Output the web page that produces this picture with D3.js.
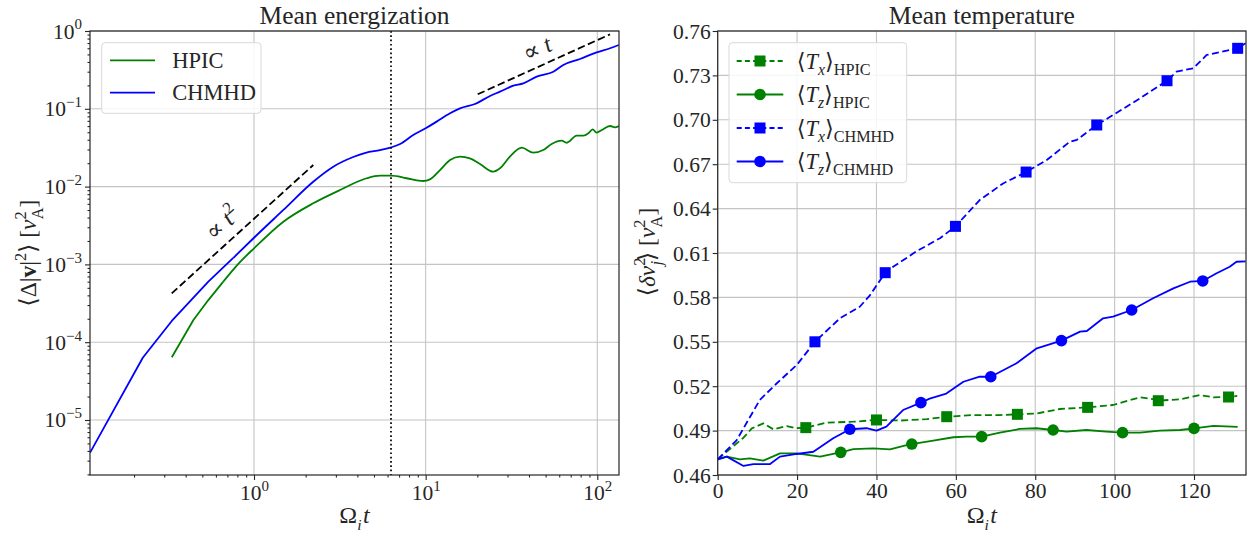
<!DOCTYPE html>
<html><head><meta charset="utf-8">
<script src="https://cdn.jsdelivr.net/npm/d3@7"></script>
<style>
body{margin:0;background:#fff}
svg{display:block}
text{font-family:"Liberation Serif","DejaVu Serif",serif;fill:#262626}
</style>
</head><body>
<script>
// ---------------- DATA ----------------
// Left panel: mean energization (log-log)
const energT_HPIC = [0.332,0.4436,0.542,0.6622,0.8128,1.0,1.483,2.213,3.17,4.529,5.42,6.31,7.745,9.68,10.59,12.13,13.87,15.85,18.11,20.75,24.77,27.10,30.97,36.31,42.36,48.42,54.2,62.09,66.37,75.86,82.99,88.72,93.97,99.08,106.2,118.6,126.8,133.4];
const energV_HPIC = [6.40e-5,1.93e-4,3.48e-4,6.0e-4,1.023e-3,1.61e-3,3.54e-3,6.10e-3,9.04e-3,1.28e-2,1.38e-2,1.38e-2,1.28e-2,1.18e-2,1.24e-2,1.633e-2,2.20e-2,2.43e-2,2.31e-2,1.95e-2,1.556e-2,1.718e-2,2.43e-2,3.16e-2,2.73e-2,2.95e-2,3.53e-2,3.89e-2,3.66e-2,4.51e-2,4.51e-2,4.84e-2,5.45e-2,4.93e-2,5.35e-2,6.01e-2,5.78e-2,6.01e-2];
const energT_CHMHD = [0.1109,0.2249,0.3319,0.542,0.7568,1.0,1.483,2.213,2.897,3.784,4.467,5.42,6.31,7.10,8.47,10.0,11.59,13.87,15.85,19.36,23.71,27.10,32.43,37.07,44.36,55.46,63.39,79.25,99.08,118.6,133.4];
const energV_CHMHD = [3.80e-6,6.32e-5,1.875e-4,6.0e-4,1.21e-3,2.20e-3,5.01e-3,1.156e-2,1.803e-2,2.40e-2,2.72e-2,2.95e-2,3.20e-2,3.53e-2,4.60e-2,5.61e-2,6.84e-2,8.75e-2,0.1014,0.1153,0.1462,0.166,0.198,0.212,0.259,0.300,0.366,0.437,0.532,0.600,0.661];
const energNames = ["HPIC","CHMHD"];
// reference power laws: coefficient and time range
const refT2 = {coef:0.00386, t0:0.3316, t1:2.216};
const refT1 = {coef:0.00764, t0:20.1, t1:118.6};
const cycloPeriod = 2*Math.PI;

// Right panel: mean temperature
const tempT_HPIC_x = [0,2.3,6.5,8.6,11.5,14,17.4,19.9,22.2,27.5,34.2,40,46,52.7,57.7,64.4,71.1,75.5,80.4,86.2,93.2,99.6,106.4,109.7,111,116.5,121.5,124.9,128.7,130.9];
const tempV_HPIC_x = [0.4706,0.4758,0.4852,0.4915,0.4949,0.4909,0.4931,0.4916,0.492,0.4954,0.496,0.4972,0.4968,0.4977,0.4994,0.5005,0.5005,0.501,0.5016,0.5046,0.5057,0.5073,0.5125,0.5112,0.5102,0.5112,0.514,0.5125,0.5127,0.5134];
const tempT_HPIC_z = [0,2.3,5.6,8.1,11.5,15.7,19.9,25.8,29.1,31,34.2,39.2,43.4,47.6,48.9,54.3,59.4,62.7,66.5,71.1,76.1,80.3,84.5,87.9,92.9,97.9,102,106.4,111.4,116.5,120,124.9,131];
const tempV_HPIC_z = [0.4706,0.4724,0.4706,0.4713,0.4697,0.4746,0.4746,0.4724,0.4742,0.4753,0.4775,0.478,0.4773,0.4802,0.4809,0.4832,0.4855,0.4859,0.4859,0.4886,0.4911,0.4916,0.4904,0.4893,0.4904,0.4893,0.4886,0.4886,0.49,0.4904,0.4915,0.4932,0.4925];
const tempT_CHMHD_x = [0,4.8,10.6,14.9,19.9,24.5,30.8,35.8,38.4,42.2,44.2,50,56,59.9,66,71.9,77.7,82.9,88.7,90.5,95.5,99.6,106.4,113.2,115.6,119.8,123.2,131,133];
const tempV_CHMHD_x = [0.4706,0.4836,0.5107,0.522,0.5343,0.55,0.5659,0.5737,0.5816,0.5967,0.6007,0.611,0.62,0.628,0.6458,0.657,0.6647,0.6728,0.6852,0.6865,0.6965,0.7032,0.7145,0.7264,0.7325,0.7348,0.7438,0.7483,0.7517];
const tempT_CHMHD_z = [0,2.3,6.5,9,13.2,15.7,19.9,24.1,29.1,33.3,37.5,40,42.5,46.7,51.2,53.4,57.6,61.9,66,68.8,75.3,80.4,86.6,91.3,93,97.1,99.6,104.3,109.7,114.8,119,122.2,125.7,129,130.7,133];
const tempV_CHMHD_z = [0.4706,0.4724,0.4661,0.4674,0.4674,0.4724,0.4742,0.4757,0.4848,0.4909,0.4916,0.49,0.4927,0.5039,0.5089,0.5116,0.515,0.523,0.5264,0.5264,0.5355,0.5456,0.5508,0.5569,0.5573,0.5659,0.567,0.5715,0.5794,0.5861,0.5906,0.5911,0.5963,0.6007,0.6041,0.6044];
// marker positions
const markT_HPIC_x = [22.2,40,57.7,75.5,93.2,111,128.7];
const markV_HPIC_x = [0.492,0.4972,0.4994,0.501,0.5057,0.5102,0.5127];
const markT_HPIC_z = [31,48.9,66.5,84.5,102,120];
const markV_HPIC_z = [0.4753,0.4809,0.4859,0.4904,0.4886,0.4915];
const markT_CHMHD_x = [24.5,42.2,59.9,77.7,95.5,113.2,131];
const markV_CHMHD_x = [0.55,0.5967,0.628,0.6647,0.6965,0.7264,0.7483];
const markT_CHMHD_z = [33.3,51.2,68.8,86.6,104.3,122.2];
const markV_CHMHD_z = [0.4909,0.5089,0.5264,0.5508,0.5715,0.5911];

// tick values
const xTicksLeft = [1,10,100];
const yTicksLeft = [1e-5,1e-4,1e-3,1e-2,1e-1,1];
const xTicksRight = [0,20,40,60,80,100,120];
const yTicksRight = [0.46,0.49,0.52,0.55,0.58,0.61,0.64,0.67,0.70,0.73,0.76];
const titles = ["Mean energization","Mean temperature"];

// ---------------- LAYOUT ----------------
const W=1253, H=533;
const svg = d3.select("body").append("svg").attr("width",W).attr("height",H);
const L = {x:90, y:31, w:529, h:444};
const R = {x:717.7, y:31, w:528.3, h:444};
const GREEN="#008000", BLUE="#0000ff", GRID="#c4c4c4", SPINE="#262626";
const FT=21.5, FL=22.5, FA=24, FTI=25.5;

function rich(sel, parts, size){
  let cur=0;
  parts.forEach(p=>{
    const target = p.sub ? size*0.28 : (p.sup ? -size*0.42 : 0);
    const ts = sel.append("tspan").text(p.t).attr("dy", (target-cur).toFixed(2));
    cur = target;
    if(p.sub||p.sup) ts.attr("font-size", (size*(p.ss||0.7)).toFixed(1));
    if(p.i) ts.attr("font-style","italic");
    if(p.b) ts.attr("font-weight","bold");
    if(p.dx) ts.attr("dx", p.dx);
  });
}
function expLabel(v){ const e=Math.round(Math.log10(v)); return [{t:"10"},{t:(e<0?"\u2212":"")+Math.abs(e), sup:true}]; }

const xL = d3.scaleLog().domain([0.1108,133.8]).range([0,L.w]);
const yL = d3.scaleLog().domain([1.963e-6,1]).range([L.h,0]);
const xR = d3.scaleLinear().domain([0,133.1]).range([0,R.w]);
const yR = d3.scaleLinear().domain([0.46,0.76]).range([R.h,0]);

const gL = svg.append("g").attr("transform",`translate(${L.x},${L.y})`);
const gR = svg.append("g").attr("transform",`translate(${R.x},${R.y})`);

const defs = svg.append("defs");
defs.append("clipPath").attr("id","clipL").append("rect").attr("width",L.w).attr("height",L.h);
defs.append("clipPath").attr("id","clipR").append("rect").attr("width",R.w).attr("height",R.h);

function minorLog(lo,hi){ const out=[]; for(let e=-7;e<=3;e++) for(let k=2;k<=9;k++){const v=k*Math.pow(10,e); if(v>=lo&&v<=hi) out.push(v);} return out; }

// ---- grids ----
function grid(g, xs, ys, xv, yv, w, h){
  g.append("g").selectAll("line").data(xv).join("line")
    .attr("x1",d=>xs(d)).attr("x2",d=>xs(d)).attr("y1",0).attr("y2",h)
    .attr("stroke",GRID).attr("stroke-width",1.1);
  g.append("g").selectAll("line").data(yv).join("line")
    .attr("y1",d=>ys(d)).attr("y2",d=>ys(d)).attr("x1",0).attr("x2",w)
    .attr("stroke",GRID).attr("stroke-width",1.1);
}
grid(gL, xL, yL, xTicksLeft, yTicksLeft, L.w, L.h);
grid(gR, xR, yR, xTicksRight, yTicksRight, R.w, R.h);

// ---- axes ----
function cleanAxis(g){ g.attr("font-family",null).attr("font-size",null); g.select(".domain").remove(); g.selectAll(".tick line").attr("stroke",SPINE).attr("stroke-width",1.1); }
// left x
const axLx = gL.append("g").attr("transform",`translate(0,${L.h})`).call(d3.axisBottom(xL).tickValues(xTicksLeft).tickSize(5).tickFormat(""));
cleanAxis(axLx);
axLx.selectAll(".tick").each(function(d){ const t=d3.select(this).append("text").attr("y",25).attr("text-anchor","middle").attr("font-size",FT).attr("fill","#262626"); rich(t,expLabel(d),FT); });
const axLxm = gL.append("g").attr("transform",`translate(0,${L.h})`).call(d3.axisBottom(xL).tickValues(minorLog(0.1108,133.8)).tickSize(2.5).tickFormat(""));
cleanAxis(axLxm);
// left y
const axLy = gL.append("g").call(d3.axisLeft(yL).tickValues(yTicksLeft).tickSize(5).tickFormat(""));
cleanAxis(axLy);
axLy.selectAll(".tick").each(function(d){ const t=d3.select(this).append("text").attr("x",-8).attr("y",7).attr("text-anchor","end").attr("font-size",FT).attr("fill","#262626"); rich(t,expLabel(d),FT); });
const axLym = gL.append("g").call(d3.axisLeft(yL).tickValues(minorLog(1.963e-6,1)).tickSize(2.5).tickFormat(""));
cleanAxis(axLym);
// right x
const axRx = gR.append("g").attr("transform",`translate(0,${R.h})`).call(d3.axisBottom(xR).tickValues(xTicksRight).tickSize(5).tickFormat(d3.format("d")));
cleanAxis(axRx);
axRx.selectAll(".tick text").attr("y",8).attr("dy","0.71em").attr("font-size",FT).attr("fill","#262626");
// right y
const axRy = gR.append("g").call(d3.axisLeft(yR).tickValues(yTicksRight).tickSize(5).tickFormat(d3.format(".2f")));
cleanAxis(axRy);
axRy.selectAll(".tick text").attr("x",-7).attr("dy","0.33em").attr("font-size",FT).attr("fill","#262626");

// ---- left series ----
const clipGL = gL.append("g").attr("clip-path","url(#clipL)");
const lineLin = d3.line().x(d=>xL(d[0])).y(d=>yL(d[1]));
const lineSm = d3.line().x(d=>xL(d[0])).y(d=>yL(d[1])).curve(d3.curveMonotoneX);
function drawEnerg(T, V, nLin, color){
  const pts = T.map((t,i)=>[t,V[i]]);
  clipGL.append("path").datum(pts.slice(0,nLin+1)).attr("d",lineLin)
    .attr("fill","none").attr("stroke",color).attr("stroke-width",1.8).attr("stroke-linejoin","round");
  clipGL.append("path").datum(pts.slice(nLin)).attr("d",lineSm)
    .attr("fill","none").attr("stroke",color).attr("stroke-width",1.8).attr("stroke-linejoin","round");
}
drawEnerg(energT_HPIC, energV_HPIC, 3, GREEN);
drawEnerg(energT_CHMHD, energV_CHMHD, 4, BLUE);
// reference lines
clipGL.append("path").datum([[refT2.t0,refT2.coef*refT2.t0**2],[refT2.t1,refT2.coef*refT2.t1**2]]).attr("d",lineLin)
  .attr("stroke","#000").attr("stroke-width",1.8).attr("stroke-dasharray","7.5,3.5").attr("fill","none");
clipGL.append("path").datum([[refT1.t0,refT1.coef*refT1.t0],[refT1.t1,refT1.coef*refT1.t1]]).attr("d",lineLin)
  .attr("stroke","#000").attr("stroke-width",1.8).attr("stroke-dasharray","7.5,3.5").attr("fill","none");
// vertical dotted line at one gyro period
clipGL.append("line").attr("x1",xL(cycloPeriod)).attr("x2",xL(cycloPeriod)).attr("y1",0).attr("y2",L.h)
  .attr("stroke","#000").attr("stroke-width",1.7).attr("stroke-dasharray","1.7,2.6");
// power law labels
const ang2 = -Math.atan(2*(yL(1e-3)-yL(1e-2))/(xL(10)-xL(1)))*180/Math.PI;
const ang1 = -Math.atan((yL(1e-3)-yL(1e-2))/(xL(10)-xL(1)))*180/Math.PI;
{ const t=0.77; const tx=gL.append("text").attr("transform",`translate(${xL(t)},${yL(refT2.coef*t*t)}) rotate(${ang2})`)
   .attr("y",-10).attr("text-anchor","middle").attr("font-size",FA);
  rich(tx,[{t:"\u221D "},{t:"t",i:true},{t:"2",sup:true}],FA); }
{ const t=49; const tx=gL.append("text").attr("transform",`translate(${xL(t)},${yL(refT1.coef*t)}) rotate(${ang1})`)
   .attr("y",-9).attr("text-anchor","middle").attr("font-size",FA);
  rich(tx,[{t:"\u221D "},{t:"t",i:true}],FA); }

// ---- right series ----
const clipGR = gR.append("g").attr("clip-path","url(#clipR)");
const lineR = d3.line().x(d=>xR(d[0])).y(d=>yR(d[1]));
const rightSeries = [
  {T:tempT_HPIC_x, V:tempV_HPIC_x, MT:markT_HPIC_x, MV:markV_HPIC_x, c:GREEN, dash:true, m:"s", lab:[{t:"\u27E8"},{t:"T",i:true},{t:"x",i:true,sub:true},{t:"\u27E9"},{t:"HPIC",sub:true,ss:0.72}]},
  {T:tempT_HPIC_z, V:tempV_HPIC_z, MT:markT_HPIC_z, MV:markV_HPIC_z, c:GREEN, dash:false, m:"o", lab:[{t:"\u27E8"},{t:"T",i:true},{t:"z",i:true,sub:true},{t:"\u27E9"},{t:"HPIC",sub:true,ss:0.72}]},
  {T:tempT_CHMHD_x, V:tempV_CHMHD_x, MT:markT_CHMHD_x, MV:markV_CHMHD_x, c:BLUE, dash:true, m:"s", lab:[{t:"\u27E8"},{t:"T",i:true},{t:"x",i:true,sub:true},{t:"\u27E9"},{t:"CHMHD",sub:true,ss:0.72}]},
  {T:tempT_CHMHD_z, V:tempV_CHMHD_z, MT:markT_CHMHD_z, MV:markV_CHMHD_z, c:BLUE, dash:false, m:"o", lab:[{t:"\u27E8"},{t:"T",i:true},{t:"z",i:true,sub:true},{t:"\u27E9"},{t:"CHMHD",sub:true,ss:0.72}]},
];
const MS=11;
function marker(g, type, x, y, c){
  if(type==="s") g.append("rect").attr("x",x-MS/2).attr("y",y-MS/2).attr("width",MS).attr("height",MS).attr("fill",c);
  else g.append("circle").attr("cx",x).attr("cy",y).attr("r",MS/2+0.3).attr("fill",c);
}
rightSeries.forEach(s=>{
  clipGR.append("path").datum(s.T.map((t,i)=>[t,s.V[i]])).attr("d",lineR)
    .attr("fill","none").attr("stroke",s.c).attr("stroke-width",1.8).attr("stroke-linejoin","round")
    .attr("stroke-dasharray", s.dash?"7,3.5":null);
});
rightSeries.forEach(s=>{
  s.MT.forEach((t,i)=>marker(gR, s.m, xR(t), yR(s.MV[i]), s.c));
});

// ---- spines ----
gL.append("rect").attr("width",L.w).attr("height",L.h).attr("fill","none").attr("stroke",SPINE).attr("stroke-width",1.2);
gR.append("rect").attr("width",R.w).attr("height",R.h).attr("fill","none").attr("stroke",SPINE).attr("stroke-width",1.2);

// ---- legends ----
// left
const lgL = gL.append("g").attr("transform","translate(11.7,11.7)");
lgL.append("rect").attr("width",159.3).attr("height",70.6).attr("rx",3.5).attr("fill","#fff").attr("fill-opacity",0.85).attr("stroke","#d9d9d9").attr("stroke-width",1);
[[GREEN,energNames[0]],[BLUE,energNames[1]]].forEach((e,i)=>{
  const y = 17.6 + i*32.3;
  lgL.append("line").attr("x1",8.3).attr("x2",53.3).attr("y1",y).attr("y2",y).attr("stroke",e[0]).attr("stroke-width",1.8);
  lgL.append("text").attr("x",70.6).attr("y",y+7.8).attr("font-size",FL).text(e[1]);
});
// right
const lgR = gR.append("g").attr("transform","translate(11.3,11.7)");
lgR.append("rect").attr("width",177.7).attr("height",140).attr("rx",3.5).attr("fill","#fff").attr("fill-opacity",0.85).attr("stroke","#d9d9d9").attr("stroke-width",1);
rightSeries.forEach((s,i)=>{
  const y = 18.3 + i*33.5;
  lgR.append("line").attr("x1",7.7).attr("x2",54.3).attr("y1",y).attr("y2",y).attr("stroke",s.c).attr("stroke-width",1.8).attr("stroke-dasharray",s.dash?"5,3.2":null);
  marker(lgR, s.m, 31, y, s.c);
  const tx = lgR.append("text").attr("x",67.7).attr("y",y+7.6).attr("font-size",FL);
  rich(tx, s.lab, FL);
});

// ---- titles and axis labels ----
svg.append("text").attr("x",L.x+L.w/2).attr("y",23.5).attr("text-anchor","middle").attr("font-size",FTI).text(titles[0]);
svg.append("text").attr("x",R.x+R.w/2).attr("y",23.5).attr("text-anchor","middle").attr("font-size",FTI).text(titles[1]);
[L,R].forEach(P=>{
  const t = svg.append("text").attr("x",P.x+P.w/2).attr("y",523).attr("text-anchor","middle").attr("font-size",FA);
  rich(t,[{t:"\u03A9"},{t:"i",i:true,sub:true,ss:0.65},{t:"t",i:true,dx:1.5}],FA);
});
{ const t = svg.append("text").attr("transform",`translate(36,253) rotate(-90)`).attr("text-anchor","middle").attr("font-size",FL+1);
  rich(t,[{t:"\u27E8\u0394|"},{t:"v",b:true},{t:"|"},{t:"2",sup:true},{t:"\u27E9 ["},{t:"v",i:true},{t:"2",sup:true},{t:"A",sub:true,dx:-8},{t:"]"}],FL+1); }
{ const t = svg.append("text").attr("transform",`translate(655,252) rotate(-90)`).attr("text-anchor","middle").attr("font-size",FL+1);
  rich(t,[{t:"\u27E8"},{t:"\u03B4v",i:true},{t:"2",sup:true},{t:"j",i:true,sub:true,dx:-8},{t:"\u27E9 ["},{t:"v",i:true},{t:"2",sup:true},{t:"A",sub:true,dx:-8},{t:"]"}],FL+1); }
</script>
</body></html>
